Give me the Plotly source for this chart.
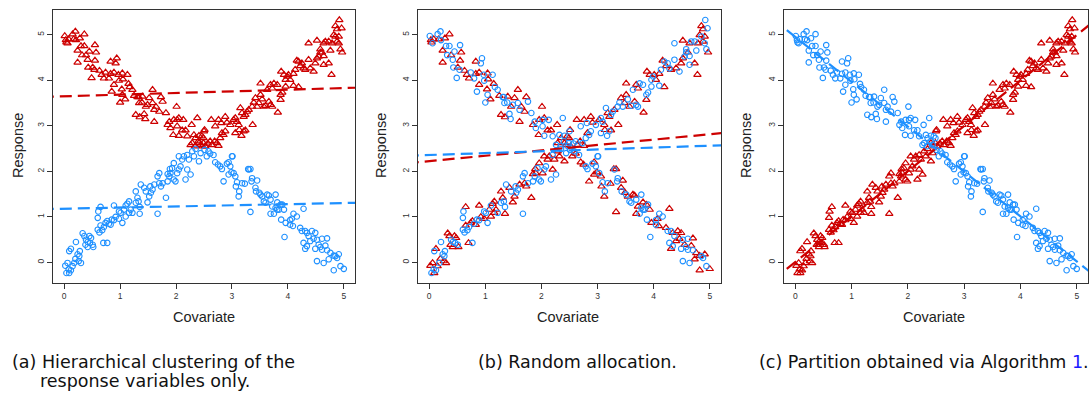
import plotly.graph_objects as go

W, H = 1089, 398

# ---- data: increasing line (red in panel c) ----
inc_x = [0.02,0.04,0.08,0.09,0.12,0.06,0.15,0.18,0.20,0.24,
         0.27,0.28,0.26,0.30,0.09,0.12,0.21,0.33,0.36,0.39,
         0.42,0.45,0.46,0.48,0.51,0.52,0.42,0.38,0.60,0.63,
         0.65,0.68,0.71,0.70,0.77,0.74,0.77,0.80,0.83,0.85,
         0.89,0.92,0.98,1.01,1.04,1.07,1.10,1.13,1.16,1.19,
         1.22,0.65,0.61,0.60,0.89,1.28,1.31,1.33,1.35,1.35,
         1.28,1.37,1.43,1.46,1.49,1.52,1.55,1.58,1.54,1.61,
         1.67,1.70,1.73,1.76,1.82,1.85,1.88,1.89,1.90,1.93,
         1.96,1.99,2.02,2.05,2.08,2.11,2.14,2.17,2.20,2.23,
         2.26,2.29,2.32,2.35,2.41,2.44,2.47,2.41,2.50,2.20,
         2.05,1.96,1.70,1.85,1.67,1.16,1.10,0.98,
         2.49,2.52,2.57,2.61,2.64,2.69,2.73,2.76,2.79,2.82,2.85,2.88,
         2.51,2.63,2.70,2.76,2.81,2.88,
         2.91,2.97,3.03,3.06,3.09,3.12,3.15,3.18,3.21,3.24,3.27,3.30,
         3.06,3.13,3.17,3.21,3.24,3.37,
         3.36,3.39,3.42,3.45,3.48,3.51,3.54,3.57,3.60,3.66,3.69,3.72,
         3.51,3.63,3.69,3.72,3.75,3.81,3.82,3.87,3.87,3.90,3.96,3.88,
         3.93,3.99,4.01,4.04,4.10,3.96,4.10,4.13,4.16,4.19,4.22,4.25,4.28,4.31,4.19,
         4.37,4.40,4.46,4.49,4.52,4.55,4.58,4.61,4.64,4.64,4.73,4.78,
         4.37,4.52,4.58,4.64,4.67,4.73,4.79,4.82,4.85,4.88,4.91,4.94,4.97,
         4.76,4.85,4.88,4.92,4.96,4.91]
inc_y = [-0.07,-0.23,-0.15,-0.23,-0.17,-0.01,-0.08,-0.01,0.08,0.18,
         0.14,0.25,0.03,-0.01,0.25,0.30,0.45,0.64,0.58,0.50,
         0.45,0.58,0.43,0.54,0.39,0.34,0.34,0.39,0.72,0.66,
         0.81,0.71,0.78,0.43,0.43,0.87,0.91,0.85,0.83,0.94,
         0.93,1.00,0.96,1.09,0.87,1.16,1.25,1.29,1.34,1.16,
         1.09,1.22,1.12,0.98,1.25,1.31,1.42,1.34,1.22,1.07,
         1.56,1.71,1.64,1.56,1.32,1.45,1.53,1.60,1.67,1.71,
         1.07,1.74,1.67,1.74,1.42,1.78,1.89,2.05,1.96,2.07,
         2.18,1.78,1.96,2.04,2.11,2.26,2.33,1.82,2.36,2.26,
         1.93,2.44,2.33,2.49,2.22,2.40,2.55,2.62,2.88,2.04,
         2.33,1.82,1.96,1.94,1.89,1.09,1.01,1.12,
         2.62,2.55,2.61,2.66,2.58,2.66,2.62,2.56,2.73,2.84,2.80,2.88,
         2.91,3.13,2.99,3.13,3.06,3.20,
         3.07,3.02,3.13,3.17,3.09,3.02,3.39,3.28,3.20,3.24,3.31,3.35,
         2.84,2.91,2.78,2.88,2.90,3.02,
         3.42,3.51,3.61,3.42,3.50,3.68,3.58,3.42,3.44,3.53,3.46,3.42,
         3.93,3.79,3.90,3.82,3.93,3.90,3.29,3.68,3.57,3.73,3.86,4.19,
         4.12,4.08,4.12,4.01,3.88,4.01,4.14,4.23,4.43,4.41,4.31,4.37,4.26,4.23,3.85,
         4.45,4.26,4.19,4.37,4.48,4.52,4.61,4.61,4.53,4.34,4.37,4.12,
         4.81,4.87,4.68,4.81,4.85,4.85,4.81,4.99,4.96,4.85,4.81,4.68,4.61,
         4.65,5.19,5.12,5.32,5.14,4.96]

# ---- data: decreasing line (blue in panel c) ----
dec_x = [0.01,0.03,0.04,0.06,0.08,0.15,0.20,0.17,0.21,0.28,
         0.36,0.30,0.36,0.24,0.32,0.39,0.45,0.55,0.57,0.55,
         0.42,0.24,0.43,0.51,0.54,0.49,0.63,0.67,0.74,0.71,
         0.80,0.83,0.89,0.94,0.92,0.83,0.85,0.89,0.97,1.04,
         1.05,0.98,1.13,1.15,1.17,1.22,1.03,1.04,1.09,1.00,
         1.25,1.31,1.34,1.40,1.39,1.46,1.52,1.49,1.58,1.58,
         1.61,1.64,1.73,1.76,1.70,1.82,1.85,1.88,1.90,1.96,
         2.01,2.02,2.02,2.05,2.13,2.11,2.05,1.95,2.17,2.20,
         2.28,2.38,2.32,2.35,2.41,2.46,2.29,2.34,2.40,2.44,
         2.26,1.28,1.35,1.43,1.45,1.61,1.33,
         2.49,2.51,2.55,2.58,2.61,2.67,2.70,2.75,2.79,2.82,
         2.85,2.91,2.94,3.01,2.97,2.99,2.94,3.03,3.06,3.09,
         3.07,3.12,3.13,3.18,3.23,3.30,3.33,3.36,3.35,3.42,
         3.43,3.45,3.49,3.51,3.54,3.57,3.60,3.63,3.66,3.69,
         3.72,3.78,3.81,3.78,3.84,3.87,3.90,3.93,3.69,3.75,
         3.81,3.33,3.88,3.96,4.04,4.07,4.10,4.16,4.28,4.09,
         4.04,4.22,4.25,4.31,4.34,4.37,4.43,4.49,4.52,4.46,
         4.28,4.34,4.31,4.40,4.49,4.55,4.61,4.70,4.58,4.61,
         4.67,4.70,4.76,4.82,4.88,4.85,4.91,4.94,5.00,4.52,
         4.64,4.73,4.82,3.94,3.29,3.00]
dec_y = [4.97,4.88,4.83,4.81,4.90,5.01,5.07,4.90,4.88,4.92,
         5.01,4.75,4.75,4.65,4.55,4.55,4.63,4.77,4.61,4.43,
         4.45,4.39,4.28,4.28,4.23,4.05,4.21,4.12,4.17,4.04,
         4.04,4.14,4.17,4.48,4.37,4.41,3.75,3.90,4.12,4.15,
         4.02,3.99,4.12,3.92,3.85,3.79,3.80,3.68,3.58,3.51,
         3.66,3.63,3.50,3.64,3.51,3.42,3.61,3.46,3.79,3.50,
         3.35,3.42,3.63,3.53,3.31,3.28,3.02,3.09,2.95,3.13,
         3.42,3.13,2.99,3.17,3.13,2.90,2.78,2.80,2.90,2.77,
         3.02,3.17,2.80,2.73,2.78,2.77,2.62,2.55,2.66,2.58,
         2.58,3.24,3.19,3.26,3.15,3.09,3.63,
         2.73,2.47,2.33,2.44,2.39,2.36,2.20,2.15,2.11,2.05,
         1.78,2.17,2.20,2.33,2.11,1.98,1.93,1.96,1.89,1.76,
         1.67,1.45,1.56,1.74,1.73,2.04,2.05,1.85,1.78,1.64,
         1.56,1.80,1.53,1.49,1.45,1.34,1.31,1.49,1.47,1.38,
         1.23,1.49,1.32,1.20,1.16,1.27,1.27,1.16,1.07,1.07,
         1.16,1.11,0.94,0.87,0.83,0.96,1.07,1.01,1.18,0.80,
         0.93,0.76,0.69,0.69,0.65,0.58,0.69,0.65,0.50,0.52,
         0.43,0.36,0.30,0.47,0.30,0.39,0.52,0.53,0.34,0.28,
         0.37,0.27,0.21,0.15,0.10,0.14,0.18,-0.08,-0.14,0.03,
         -0.01,0.07,-0.17,0.56,2.05,2.33]

# panel (b): hand-typed random allocation ('r' = red group, 'b' = blue group)
alloc_inc = ("rbbrbrrbrbbbrrbrbrrbbrbrbrrrbbrbbrbrrbrbbrrbbrbrrr"
             "brbbrbrbbrrbrbrrbbbrbrrbrbbrrbrbrbbrrbbrbrrbrbbrbr"
             "rbbrbrrbbrbbrrbrbrbbrrbrbrrbrbbrbrrbbrbrbbrrbbrbrr"
             "brbrbbrbrrbbrbrbbrrbrrbbrbrbrbbrrbrbrrbbrbbrrbrbrb"
             "brrbrbbrbrrbbrbbrbrrbrbbrrbrbrbbrbrrbbrb")
alloc_dec = ("brrbrbbrbrrbbrbrbbrrbrbrbbrrbrbrrbbrbrbrrbbrbbrbrb"
             "rbbrbrrbrbbrrbrbrbbrrbbrbrbrrbrbbrbrrbbrbrrbbrbrbr"
             "brbrrbbrbrbbrrbrbrrbbrbrbbrbrrbrbbrrbrbrbbrbrrbbrb"
             "rbrbbrrbrbbrbrrbrbbrrbrbrbbrbrrbbrbrbbrrbrbr")

# panel (a): hierarchical clustering on the response splits at this level
split_a = 2.52

# fitted dashed lines per panel: (intercept, slope)
fit_red = [(3.647, 0.036), (2.224, 0.118), (0.01, 0.996)]
fit_blue = [(1.18, 0.025), (2.358, 0.041), (4.95, -0.985)]

RED = "#CD0000"
BLUE = "#1E90FF"
FONT = "Liberation Sans, Arial, Helvetica, sans-serif"
CAP_FONT = "DejaVu Sans, Liberation Sans, sans-serif"

all_x = inc_x + dec_x
all_y = inc_y + dec_y
line_id = ["inc"] * len(inc_x) + ["dec"] * len(dec_x)

groups = []
groups.append(["r" if y >= split_a else "b" for y in all_y])
groups.append(list(alloc_inc[:len(inc_x)]) + list(alloc_dec[:len(dec_x)]))
groups.append(["r" if l == "inc" else "b" for l in line_id])

box_px = [(53, 355), (418, 721), (784, 1088)]
top_px, bot_px = 10, 283

fig = go.Figure()
XR = [-0.2, 5.2]
YR = [-0.45, 5.54]

for i in range(3):
    ax = "" if i == 0 else str(i + 1)
    xa, ya = "x" + ax, "y" + ax
    g = groups[i]
    rx = [x for x, k in zip(all_x, g) if k == "r"]
    ry = [y for y, k in zip(all_y, g) if k == "r"]
    bx = [x for x, k in zip(all_x, g) if k == "b"]
    by = [y for y, k in zip(all_y, g) if k == "b"]
    fig.add_trace(go.Scatter(x=rx, y=ry, mode="markers", xaxis=xa, yaxis=ya,
                             marker=dict(symbol="triangle-up-open", size=6.5, color=RED,
                                         line=dict(width=1.2, color=RED)),
                             showlegend=False, hoverinfo="skip"))
    fig.add_trace(go.Scatter(x=bx, y=by, mode="markers", xaxis=xa, yaxis=ya,
                             marker=dict(symbol="circle-open", size=5.5, color=BLUE,
                                         line=dict(width=1.1, color=BLUE)),
                             showlegend=False, hoverinfo="skip"))
    for (a, b), c in ((fit_red[i], RED), (fit_blue[i], BLUE)):
        lx = [-0.4, 5.4]
        fig.add_trace(go.Scatter(x=lx, y=[a + b * v for v in lx], mode="lines",
                                 xaxis=xa, yaxis=ya,
                                 line=dict(color=c, width=2.2, dash="12px,6px"),
                                 showlegend=False, hoverinfo="skip"))
    l, r = box_px[i]
    axis_common = dict(showgrid=False, zeroline=False, showline=True, mirror=True,
                       linecolor="#333", linewidth=1, ticks="outside", ticklen=5,
                       tickwidth=1, tickcolor="#333",
                       tickfont=dict(family=FONT, size=8.5, color="#333"),
                       tickmode="array", tickvals=[0, 1, 2, 3, 4, 5],
                       ticktext=["0", "1", "2", "3", "4", "5"], fixedrange=True)
    fig.update_layout(**{
        "xaxis" + ax: dict(domain=[l / W, r / W], range=XR, anchor=ya, **axis_common),
        "yaxis" + ax: dict(domain=[1 - bot_px / H, 1 - top_px / H], range=YR,
                           anchor=xa, tickangle=-90, **axis_common),
    })

annotations = []
def px(x):
    return x / W
def py(y):
    return 1 - y / H

resp_x = [18, 381, 746]
cov_x = [204, 568, 934]
for i in range(3):
    annotations.append(dict(text="Response", x=px(resp_x[i]), y=py(146), xref="paper",
                            yref="paper", showarrow=False, textangle=-90,
                            font=dict(family=FONT, size=14.5, color="#222"),
                            xanchor="center", yanchor="middle"))
    annotations.append(dict(text="Covariate", x=px(cov_x[i]), y=py(317), xref="paper",
                            yref="paper", showarrow=False,
                            font=dict(family=FONT, size=14.5, color="#222"),
                            xanchor="center", yanchor="middle"))

cap_font = dict(family=CAP_FONT, size=17.5, color="#111")
captions = [
    ("(a) Hierarchical clustering of the", 10, 362),
    ("response variables only.", 38, 381),
    ("(b) Random allocation.", 476, 362),
    ("(c) Partition obtained via Algorithm <span style='color:#1a1aff'>1</span>.", 757, 362),
]
for t, x, y in captions:
    annotations.append(dict(text=t, x=px(x), y=py(y), xref="paper", yref="paper",
                            showarrow=False, font=cap_font, xanchor="left",
                            yanchor="middle"))

fig.update_layout(width=W, height=H, margin=dict(l=0, r=0, t=0, b=0),
                  paper_bgcolor="white", plot_bgcolor="white",
                  annotations=annotations)

fig.write_html("out.html")
